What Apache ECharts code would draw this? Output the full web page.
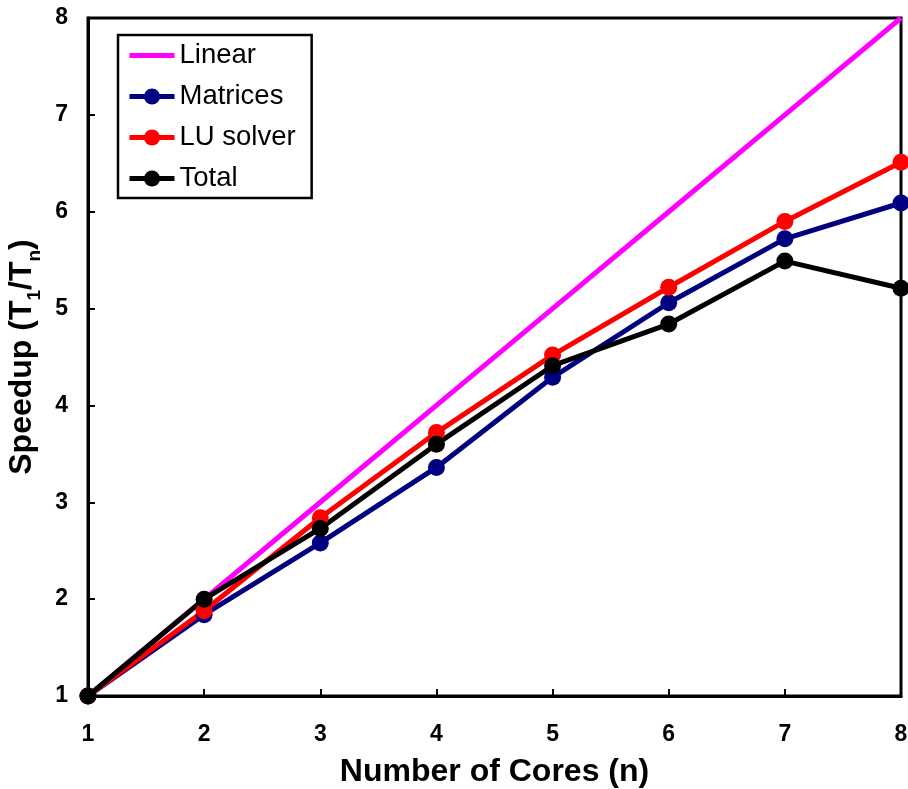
<!DOCTYPE html>
<html><head><meta charset="utf-8">
<script src="https://cdn.jsdelivr.net/npm/echarts@6/dist/echarts.min.js"></script>
<style>html,body{margin:0;padding:0;background:#fff}#c{width:908px;height:789px}</style>
</head><body><div id="c"></div>
<script>
const cores = [1, 2, 3, 4, 5, 6, 7, 8];
const linear = [1, 2, 3, 4, 5, 6, 7, 8];
const matrices = [1, 1.84, 2.58, 3.36, 4.29, 5.06, 5.72, 6.09];
const luSolver = [1, 1.88, 2.84, 3.72, 4.52, 5.22, 5.90, 6.51];
const total = [1, 2.00, 2.73, 3.60, 4.41, 4.84, 5.49, 5.21];
const seriesNames = ['Linear', 'Matrices', 'LU solver', 'Total'];

const pairs = arr => cores.map((c, i) => [c, arr[i]]);
const font = 'Liberation Sans, Arial, sans-serif';
const chart = echarts.init(document.getElementById('c'), null, {renderer: 'canvas'});
const mk = (name, data, color, sym) => ({
  name, type: 'line', data: pairs(data),
  lineStyle: {color, width: 5},
  itemStyle: {color},
  symbol: sym ? 'circle' : 'none', symbolSize: 17,
  showSymbol: !!sym, clip: false,
  emphasis: {disabled: true}, animation: false
});
chart.setOption({
  animation: false,
  grid: {left: 88, right: 7, top: 18, bottom: 93, outerBoundsMode: 'none', containLabel: false,
         show: true, borderColor: '#000', borderWidth: 3, backgroundColor: 'transparent'},
  legend: {
    orient: 'vertical', left: 118, top: 35,
    borderColor: '#000', borderWidth: 2.5,
    padding: [6, 16, 5, 9],
    itemWidth: 45, itemHeight: 20, itemGap: 12,
    lineStyle: {width: 5},
    textStyle: {fontFamily: font, fontSize: 27.5, color: '#000', lineHeight: 29},
    data: [
      {name: seriesNames[0], icon: 'path://M0,0H45V5H0Z'},
      seriesNames[1], seriesNames[2], seriesNames[3]
    ]
  },
  xAxis: {
    type: 'value', min: 1, max: 8, interval: 1,
    name: 'Number of Cores (n)', nameLocation: 'middle', nameGap: 60,
    nameTextStyle: {fontFamily: font, fontWeight: 'bold', fontSize: 32, color: '#000'},
    axisLine: {lineStyle: {color: '#000', width: 3}},
    axisTick: {inside: true, length: 7, lineStyle: {color: '#000', width: 2}},
    axisLabel: {fontFamily: font, fontWeight: 'bold', fontSize: 23, color: '#000', margin: 27},
    splitLine: {show: false}
  },
  yAxis: {
    type: 'value', min: 1, max: 8, interval: 1,
    name: '{n|Speedup (T}{s|1}{n|/T}{s|n}{n|)}', nameLocation: 'middle', nameGap: 32, nameRotate: 90,
    nameTextStyle: {
      rich: {
        n: {fontFamily: font, fontWeight: 'bold', fontSize: 32, color: '#000', lineHeight: 38, verticalAlign: 'bottom'},
        s: {fontFamily: font, fontWeight: 'bold', fontSize: 19, color: '#000', lineHeight: 24, verticalAlign: 'bottom', padding: [0, 0, -6, 0]}
      }
    },
    axisLine: {lineStyle: {color: '#000', width: 3}},
    axisTick: {inside: true, length: 7, lineStyle: {color: '#000', width: 2}},
    axisLabel: {fontFamily: font, fontWeight: 'bold', fontSize: 23, color: '#000', margin: 20},
    splitLine: {show: false}
  },
  series: [
    mk(seriesNames[0], linear, '#ff00ff', false),
    mk(seriesNames[1], matrices, '#000080', true),
    mk(seriesNames[2], luSolver, '#ff0000', true),
    mk(seriesNames[3], total, '#000000', true)
  ]
});
</script></body></html>
